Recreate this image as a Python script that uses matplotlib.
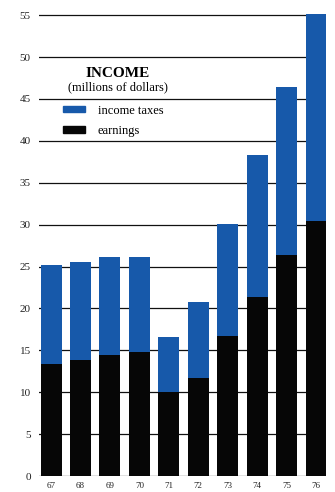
import matplotlib.pyplot as plt
from matplotlib.patches import Patch

years = ["67", "68", "69", "70", "71", "72", "73", "74", "75", "76"]
earnings = [13.4, 13.8, 14.4, 14.8, 10.0, 11.7, 16.7, 21.4, 26.4, 30.4]
total_income = [25.2, 25.6, 26.1, 26.1, 16.6, 20.8, 30.1, 38.3, 46.4, 55.2]
income_taxes = [t - e for t, e in zip(total_income, earnings)]

blue = "#1759aa"
black = "#060606"

plt.rcParams["font.family"] = ["Liberation Serif", "DejaVu Serif"]

fig = plt.figure(figsize=(3.35, 4.92), dpi=100)
ax = fig.add_axes([39 / 335, 1 - 476 / 492, (326 - 39) / 335, (476 - 11) / 492])

x = list(range(len(years)))
ax.bar(x, earnings, width=0.71, color=black, zorder=2)
ax.bar(x, income_taxes, bottom=earnings, width=0.71, color=blue, zorder=2)

ax.set_xlim(-0.41, 9.34)
ax.set_ylim(0, 55.5)
ax.set_yticks(range(0, 56, 5))
ax.set_xticks(x)
ax.set_xticklabels(years)
ax.yaxis.grid(True, color="#111111", linewidth=0.9, zorder=0)
ax.set_axisbelow(True)
for s in ax.spines.values():
    s.set_visible(False)
ax.tick_params(axis="y", length=0, pad=6, labelsize=8, labelcolor="#222222")
ax.tick_params(axis="x", length=0, pad=4, labelsize=6.5, labelcolor="#222222")

# legend block in the upper-left
ax.text(0.275, 0.865, "INCOME", transform=ax.transAxes, ha="center", va="center",
        fontsize=11, fontweight="bold")
ax.text(0.275, 0.837, "(millions of dollars)", transform=ax.transAxes, ha="center",
        va="center", fontsize=9)
handles = [Patch(color=blue, label="income taxes"), Patch(color=black, label="earnings")]
ax.legend(handles=handles, loc="upper left", bbox_to_anchor=(0.045, 0.823), frameon=False,
          fontsize=9, handlelength=1.75, handleheight=0.45, handletextpad=1.0,
          labelspacing=0.7)

fig.savefig("out.png", dpi=100)
